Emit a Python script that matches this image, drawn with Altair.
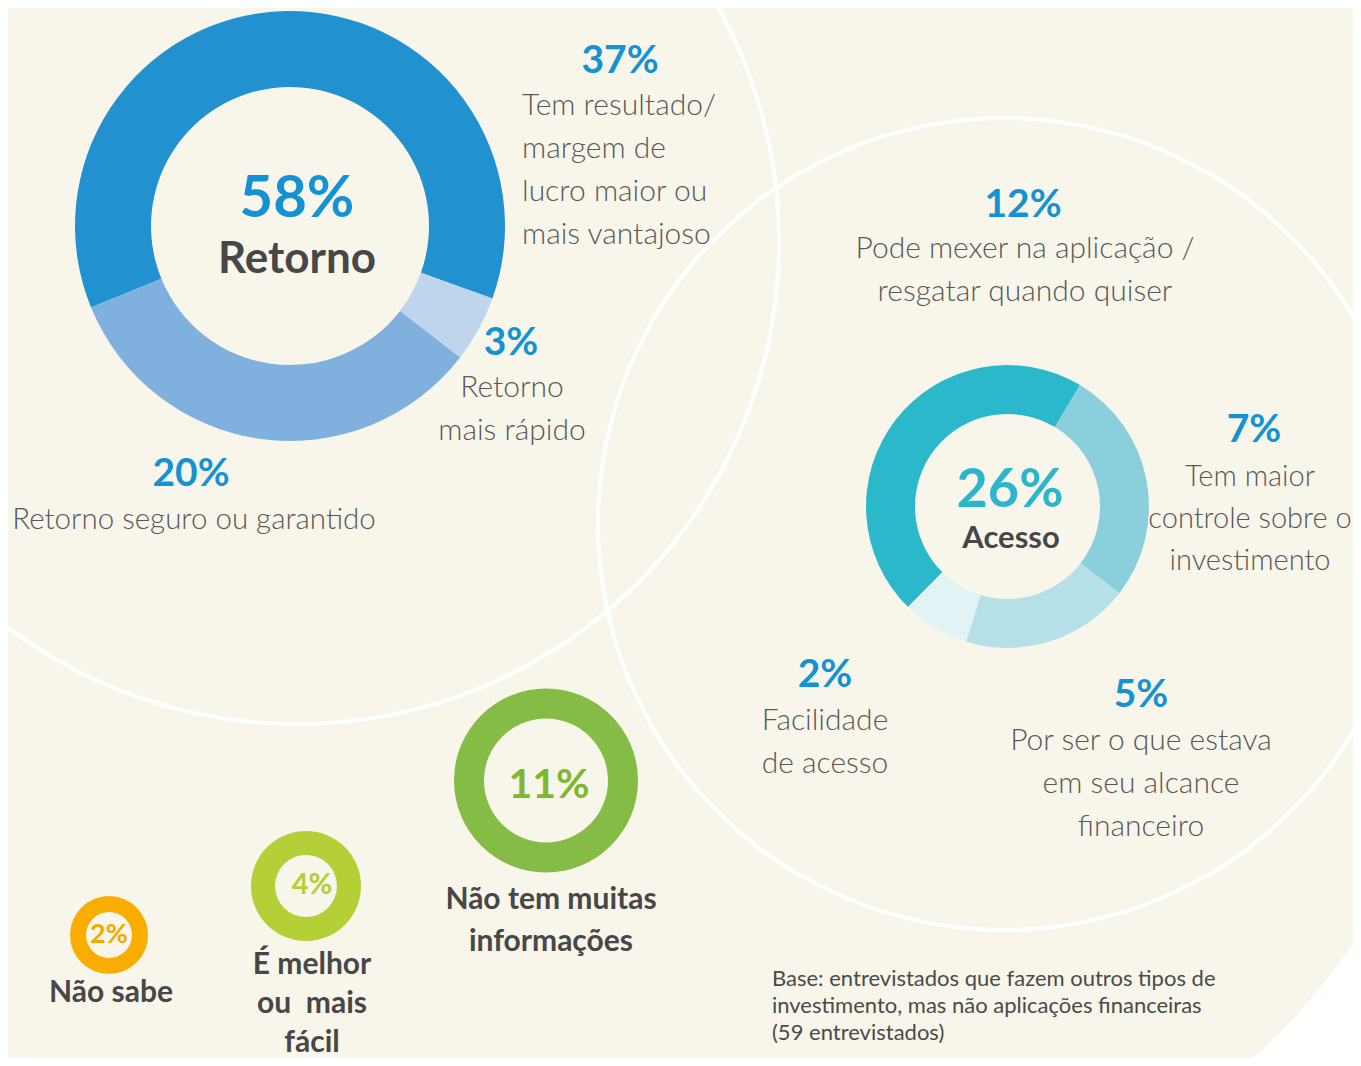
import math
import altair as alt
import pandas as pd

# ---------------- data ----------------
ret_total = 58
ret_title = "Retorno"
ret_cats = ["Tem resultado/\nmargem de\nlucro maior ou\nmais vantajoso",
            "Retorno\nmais rápido",
            "Retorno seguro ou garantido"]
ret_vals = [37, 3, 20]

ace_total = 26
ace_title = "Acesso"
ace_cats = ["Pode mexer na aplicação /\nresgatar quando quiser",
            "Tem maior\ncontrole sobre o\ninvestimento",
            "Por ser o que estava\nem seu alcance\nfinanceiro",
            "Facilidade\nde acesso"]
ace_vals = [12, 7, 5, 2]

other_cats = ["Não tem muitas\ninformações", "É melhor\nou\u00a0 mais\nfácil", "Não sabe"]
other_vals = [11, 4, 2]

base_note = "Base: entrevistados que fazem outros tipos de\ninvestimento, mas não aplicações financeiras\n(59 entrevistados)"

# ---------------- styles ----------------
BG = "#f8f6ea"
ret_colors = ["#2191cf", "#bfd5ee", "#7fb0de"]
ace_colors = ["#2cb8cb", "#8ccfdc", "#b6e0e8", "#e2f3f6"]
other_colors = ["#84bc45", "#b5cf37", "#f8ad00"]
other_text_colors = ["#7db82f", "#b3cf37", "#f5a800"]
PCT = "#1592d3"
TEAL = "#2cb6cb"
DARK = "#474747"
THIN = "#585858"
FONT = "Lato"
M = 8
W, H = 1361 - 2 * M, 1066 - 2 * M


def X(v):
    return v - M


def Y(v):
    return v - M


def pct(v):
    return f"{v}%"


def txt(s, x, y, size, color, weight="normal", align="center", lh=None):
    kw = dict(font=FONT, fontSize=size, color=color, fontWeight=weight,
              align=align, baseline="alphabetic")
    if "\n" in s:
        kw.update(lineBreak="\n", lineHeight=lh)
    return alt.Chart(pd.DataFrame({"t": [s]})).mark_text(**kw).encode(
        text="t:N", x=alt.value(X(x)), y=alt.value(Y(y)))


def donut(cats, vals, colors, cx, cy, r_out, r_in, start_deg):
    df = pd.DataFrame({"cat": cats, "v": vals, "i": list(range(len(vals)))})
    s = math.radians(start_deg)
    return alt.Chart(df).mark_arc(radius=r_out, radius2=r_in).encode(
        theta=alt.Theta("v:Q", stack=True,
                        scale=alt.Scale(domain=[0, sum(vals)], range=[s, s + 2 * math.pi], nice=False)),
        order=alt.Order("i:Q"),
        color=alt.Color("cat:N", scale=alt.Scale(domain=cats, range=colors), legend=None),
        x=alt.value(X(cx)), y=alt.value(Y(cy)))


def ring(cx, cy, r_out, r_in, color="white", t0=0.0, t1=2 * math.pi):
    return alt.Chart(pd.DataFrame({"k": [0]})).mark_arc(
        radius=r_out, radius2=r_in, theta=t0, theta2=t1, color=color).encode(
        x=alt.value(X(cx)), y=alt.value(Y(cy)))


layers = []
# white corner outside the cream card
layers.append(ring(854, 610, 1000, 600, "white", math.radians(95), math.radians(175)))
# big white outline circles
layers.append(ring(297, 242, 484, 480))
layers.append(ring(1004, 524, 408, 404))

# donuts
layers.append(donut(ret_cats, ret_vals, ret_colors, 290, 226, 215, 139, 247.7))
layers.append(donut(ace_cats, ace_vals, ace_colors, 1007.5, 506.5, 141.5, 92.5, 224.7))
layers.append(donut([other_cats[0]], [other_vals[0]], [other_colors[0]], 546, 780.5, 92, 62, 0))
layers.append(donut([other_cats[1]], [other_vals[1]], [other_colors[1]], 306, 886, 55, 31, 0))
layers.append(donut([other_cats[2]], [other_vals[2]], [other_colors[2]], 109, 935, 39, 23, 0))

# Retorno texts
layers.append(txt(pct(ret_total), 297, 217, 58, PCT, "bold"))
layers.append(txt(ret_title, 297, 273, 44, DARK, "bold"))
layers.append(txt(pct(ret_vals[0]), 620, 73, 39, PCT, "bold"))
layers.append(txt(ret_cats[0], 522, 115, 30, THIN, 300, "left", 43))
layers.append(txt(pct(ret_vals[1]), 511, 355, 39, PCT, "bold"))
layers.append(txt(ret_cats[1], 512, 397, 30, THIN, 300, "center", 43))
layers.append(txt(pct(ret_vals[2]), 191, 486, 39, PCT, "bold"))
layers.append(txt(ret_cats[2], 194, 529, 29.5, THIN, 300))

# Acesso texts
layers.append(txt(pct(ace_total), 1010, 507, 54, TEAL, "bold"))
layers.append(txt(ace_title, 1011, 548, 31, DARK, "bold"))
layers.append(txt(pct(ace_vals[0]), 1023, 217, 39, PCT, "bold"))
layers.append(txt(ace_cats[0], 1025, 258, 30, THIN, 300, "center", 43))
layers.append(txt(pct(ace_vals[1]), 1254, 442, 39, PCT, "bold"))
layers.append(txt(ace_cats[1], 1250, 486, 29, THIN, 300, "center", 42))
layers.append(txt(pct(ace_vals[2]), 1141, 707, 39, PCT, "bold"))
layers.append(txt(ace_cats[2], 1141, 750, 30, THIN, 300, "center", 43))
layers.append(txt(pct(ace_vals[3]), 825, 687, 39, PCT, "bold"))
layers.append(txt(ace_cats[3], 825, 730, 30, THIN, 300, "center", 43))

# other answers
layers.append(txt(pct(other_vals[0]), 549, 798, 41, other_text_colors[0], "bold"))
layers.append(txt(other_cats[0], 551, 909, 30, DARK, "bold", "center", 42))
layers.append(txt(pct(other_vals[1]), 312, 894, 29, other_text_colors[1], "bold"))
layers.append(txt(other_cats[1], 312, 974, 30, DARK, "bold", "center", 39))
layers.append(txt(pct(other_vals[2]), 109, 943, 27, other_text_colors[2], "bold"))
layers.append(txt(other_cats[2], 111, 1002, 30, DARK, "bold"))

# base note
layers.append(txt(base_note, 772, 986, 22, "#4a4a4a", "normal", "left", 27))

chart = alt.layer(*layers).resolve_scale(
    theta="independent", color="independent"
).properties(
    width=W, height=H, padding=0,
    autosize=alt.AutoSizeParams(type="none"),
    background=BG,
).configure_view(stroke=None)

chart.save("out.html", embed_options={"renderer": "svg", "actions": False})
